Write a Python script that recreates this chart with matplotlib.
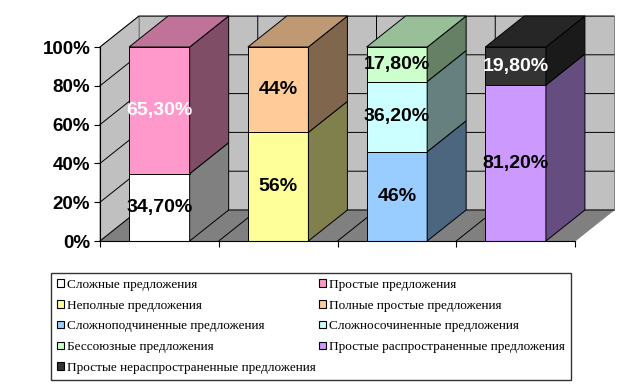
import numpy as np
import matplotlib.pyplot as plt
from matplotlib.patches import Polygon, Patch

# segments, bottom to top within each bar
names = ['Сложные предложения', 'Простые предложения',
         'Неполные предложения', 'Полные простые предложения',
         'Сложноподчиненные предложения', 'Сложносочиненные предложения',
         'Бессоюзные предложения', 'Простые распространенные предложения',
         'Простые нераспространенные предложения']
values = [34.7, 65.3, 56, 44, 46, 36.2, 17.8, 81.2, 19.8]
labels = ['34,70%', '65,30%', '56%', '44%', '46%', '36,20%', '17,80%', '81,20%', '19,80%']
bar_of = [0, 0, 1, 1, 2, 2, 2, 3, 3]
colors = ['#FFFFFF', '#FF99CC', '#FFFF99', '#FFCC99', '#99CCFF', '#CCFFFF',
          '#CCFFCC', '#CC99FF', '#333333']
label_colors = ['black', 'white', 'black', 'black', 'black', 'black', 'black', 'black', 'white']
yticks = [0, 0.2, 0.4, 0.6, 0.8, 1.0]
ytick_labels = ['0%', '20%', '40%', '60%', '80%', '100%']

nbars = 4
W, H = 634, 390
fig = plt.figure(figsize=(W / 100, H / 100), dpi=100)
# front plane of the 3d box, pixel coords
px0, px1, py_top, py_bot = 100, 575, 47, 241
ax = fig.add_axes([px0 / W, 1 - py_bot / H, (px1 - px0) / W, (py_bot - py_top) / H])
ax.set_xlim(0, nbars)
ax.set_ylim(0, 1)

# depth offset in data units
dx = 39 / ((px1 - px0) / nbars)
dy = 31 / (py_bot - py_top)


def shade(c, f):
    r, g, b = [int(c[i:i + 2], 16) / 255 for i in (1, 3, 5)]
    return (r * f, g * f, b * f)


def poly(pts, fc, ec='black', lw=0.7, z=1):
    ax.add_patch(Polygon(pts, closed=True, facecolor=fc, edgecolor=ec, lw=lw,
                         zorder=z, clip_on=False))


# walls and floor
poly([(0, 0), (dx, dy), (dx, 1 + dy), (0, 1)], '#C0C0C0', ec='#808080', z=0)
poly([(dx, dy), (nbars + dx, dy), (nbars + dx, 1 + dy), (dx, 1 + dy)], '#C0C0C0', ec='#808080', z=0)
poly([(0, 0), (nbars, 0), (nbars + dx, dy), (dx, dy)], '#808080', ec='#808080', z=0.5)
for t in yticks:
    ax.plot([0, dx, nbars + dx], [t, t + dy, t + dy], color='black', lw=0.7, zorder=0.6, clip_on=False)
for k in range(1, nbars):
    ax.plot([k, k + dx, k + dx], [0, dy, 1 + dy], color='black', lw=0.7, zorder=0.6, clip_on=False)

# bars
w = 0.51
tot = [0.0] * nbars
for b in range(nbars):
    tot[b] = sum(v for v, i in zip(values, bar_of) if i == b)
bottoms = [0.0] * nbars
handles = []
for v, i, c, lab, lc, name in zip(values, bar_of, colors, labels, label_colors, names):
    h = v / tot[i]
    y0 = bottoms[i]
    xc = i + 0.5
    xl, xr = xc - w / 2, xc + w / 2
    ax.bar(xc, h, bottom=y0, width=w, color=c, edgecolor='black', lw=0.7, zorder=2 + i)
    poly([(xr, y0), (xr + dx, y0 + dy), (xr + dx, y0 + h + dy), (xr, y0 + h)], shade(c, 0.5), z=2 + i)
    if y0 + h >= 0.999:
        poly([(xl, 1), (xr, 1), (xr + dx, 1 + dy), (xl + dx, 1 + dy)], shade(c, 0.75), z=2 + i)
    ax.text(xc, y0 + h / 2, lab, ha='center', va='center', color=lc, fontsize=14,
            fontweight='bold', family='Liberation Sans', zorder=10)
    bottoms[i] += h
    handles.append(Patch(facecolor=c, edgecolor='black', lw=0.8, label=name))

# axes
for s in ['top', 'right']:
    ax.spines[s].set_visible(False)
ax.spines['left'].set_zorder(9)
ax.spines['bottom'].set_zorder(9)
ax.set_facecolor('none')
ax.set_yticks(yticks)
ax.set_yticklabels(ytick_labels, fontsize=13.5, fontweight='bold', family='Liberation Sans')
ax.set_xticks(range(nbars + 1))
ax.set_xticklabels([])
ax.tick_params(length=4, width=0.8, pad=3)

order = [0, 2, 4, 6, 8, 1, 3, 5, 7]
leg = fig.legend([handles[k] for k in order], [names[k] for k in order], ncol=2,
                 loc='upper left', bbox_to_anchor=(51 / W, 1 - 381 / H, 520 / W, 108 / H),
                 mode='expand', prop={'family': 'Liberation Serif', 'size': 9.5},
                 frameon=True, fancybox=False, edgecolor='black', borderaxespad=0,
                 handlelength=0.5, handleheight=0.5, handletextpad=0.25,
                 labelspacing=0.66, columnspacing=0.5, borderpad=0.45)
leg.get_frame().set_linewidth(1.0)

fig.savefig('out.png', dpi=100)
